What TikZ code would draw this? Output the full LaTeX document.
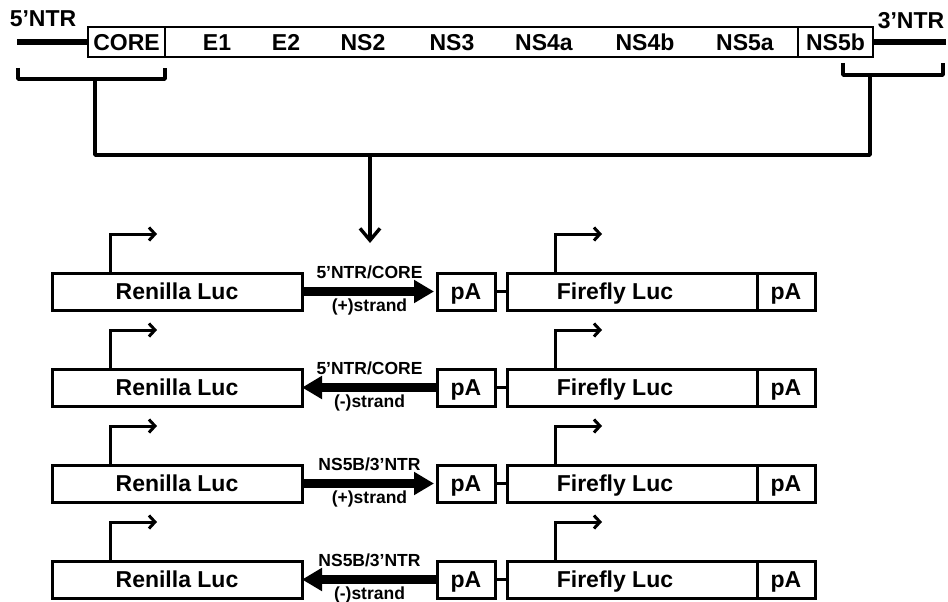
\documentclass[tikz,border=0pt]{standalone}
\usepackage{fontspec}
\setmainfont{Liberation Sans}
\usetikzlibrary{arrows.meta,positioning,calc}

\begin{document}
\begin{tikzpicture}[
    x=1pt, y=-1pt,
    font=\bfseries\fontsize{23}{25}\selectfont,
    txt/.style={text height=19pt, text depth=2.5pt},
    gene/.style={txt, draw, line width=2.8pt, minimum height=30pt, inner sep=0pt, outer sep=0pt},
    box/.style={txt, draw, line width=3pt, minimum height=37pt, inner sep=0pt, outer sep=0pt},
    small/.style={font=\bfseries\fontsize{17.5}{19}\selectfont, inner sep=1pt, text height=13pt, text depth=3pt},
    ntr/.style={line width=5.5pt},
    brace/.style={line width=3.6pt, line join=round},
    down/.style={line width=3.4pt, -{Straight Barb[length=12pt,width=20pt]}},
    prom/.style={line width=3pt, -{Straight Barb[length=6pt,width=13pt]}},
    strand/.style={line width=9pt},
    fwd/.style={-{Triangle[length=20pt,width=22pt]}, shorten >=3pt},
    bwd/.style={{Triangle[length=20pt,width=22pt]}-},
    link/.style={line width=2.6pt}
]
\useasboundingbox (0,0) rectangle (948,602);

% genome
\node[gene, minimum width=77pt] (core) at (126.5,42) {CORE};
\node[gene, minimum width=633pt, anchor=west] (poly) at (core.east) {};
\node[gene, minimum width=75pt, anchor=west] (ns5b) at (poly.east) {NS5b};
\foreach \g/\x in {E1/217, E2/286, NS2/363, NS3/452, NS4a/544, NS4b/645, NS5a/745}
    \node[txt] (\g) at (\x,42) {\g};

\coordinate (ntr5) at (17,42);
\coordinate (ntr3) at (946,42);
\draw[ntr] (ntr5) -- (core.west);
\draw[ntr] (ns5b.east) -- (ntr3);
\node[txt] (lab5) at (43,18) {5’NTR};
\node[txt] (lab3) at (911,20) {3’NTR};

% brackets
\draw[brace] (18,68) |- (165,79) -- (165,68);
\draw[brace] (843,63) |- (943,75) -- (943,63);
\coordinate (brl) at (95,79);
\coordinate (brr) at (870,75);
\coordinate (join) at (370,155);
\coordinate (tip) at (370,243);
\draw[brace] (brl) |- (join) -| (brr);
\draw[down] (join) -- (tip);

% constructs
\foreach \i/\y/\lab/\str/\dir in {1/291.5/{5’NTR/CORE}/{(+)}/fwd,
                                  2/387.5/{5’NTR/CORE}/{(-)}/bwd,
                                  3/483.5/{NS5B/3’NTR}/{(+)}/fwd,
                                  4/579.5/{NS5B/3’NTR}/{(-)}/bwd} {
    \node[box, minimum width=250pt] (ren\i) at (177,\y) {Renilla Luc};
    \node[box, minimum width=58pt] (pa\i) at (466,\y) {pA};
    \node[box, minimum width=250pt, label={[txt, xshift=-17pt]center:Firefly Luc}] (ff\i) at (632,\y) {};
    \node[box, minimum width=58pt, anchor=west] (pb\i) at (ff\i.east) {pA};
    \draw[prom] ([xshift=58pt]ren\i.north west) -- ++(0,-39) -- ++(47,0);
    \draw[prom] ([xshift=48pt]ff\i.north west) -- ++(0,-39) -- ++(47,0);
    \draw[strand, \dir] (ren\i.east) -- node[small, above=5pt] {\lab} node[small, below=1.5pt] {\str strand} (pa\i.west);
    \draw[link] (pa\i.east) -- (ff\i.west);
}
\end{tikzpicture}
\end{document}
